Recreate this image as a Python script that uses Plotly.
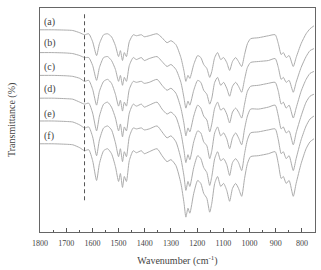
import plotly.graph_objects as go

wavenumber = [1800, 1750, 1700, 1675, 1648, 1630, 1614, 1599, 1584, 1573,
              1557, 1542, 1527, 1512, 1500, 1493, 1485, 1478, 1470, 1459,
              1444, 1432, 1413, 1402, 1383, 1353, 1334, 1315, 1300, 1281,
              1262, 1250, 1243, 1235, 1228, 1213, 1198, 1186, 1175, 1163,
              1152, 1144, 1133, 1122, 1110, 1099, 1087, 1076, 1065, 1053,
              1042, 1030, 1019, 1008, 996, 966, 928, 902, 890, 879,
              871, 860, 849, 833, 822, 803, 784, 769, 754]

trans_a = [204, 204, 203.7, 203.3, 201, 199, 200, 192, 178, 190,
           199, 200, 197, 188, 177, 183, 173, 181, 177, 192,
           199, 198, 199, 197, 198, 200, 196, 191, 193, 189,
           176, 162, 152, 158, 155, 169, 178, 176, 169, 165,
           156, 162, 176, 181, 174, 176, 171, 163, 172, 176,
           172, 167, 179, 190, 195, 196, 198, 199, 190, 179,
           181, 176, 178, 167, 176, 190, 200, 205, 208]
trans_b = [181, 181, 180.6, 180, 178, 176, 176, 168, 153, 166,
           176, 177, 173, 164, 152, 158, 148, 156, 152, 168,
           176, 174, 176, 173, 175, 177, 172, 167, 169, 164,
           151, 135, 125, 132, 128, 143, 153, 151, 143, 139,
           129, 135, 151, 156, 148, 151, 145, 137, 147, 151,
           147, 141, 154, 166, 171, 172, 173, 175, 166, 154,
           156, 151, 153, 141, 151, 166, 177, 183, 185]
trans_c = [158, 158, 157.6, 157, 155, 152, 153, 144, 128, 142,
           152, 154, 150, 139, 127, 133, 122, 131, 127, 144,
           152, 151, 152, 150, 151, 154, 148, 143, 145, 140,
           125, 109, 97, 105, 101, 117, 128, 125, 117, 113,
           101, 109, 125, 131, 123, 125, 119, 110, 121, 125,
           121, 115, 129, 142, 147, 148, 150, 151, 142, 129,
           131, 125, 128, 115, 125, 142, 154, 160, 162]
trans_d = [135, 135, 134.5, 134, 131, 129, 130, 120, 102, 117,
           129, 131, 126, 115, 102, 109, 96, 106, 102, 120,
           129, 127, 129, 126, 128, 131, 124, 119, 121, 116,
           100, 82, 70, 78, 73, 91, 102, 100, 91, 87,
           74, 82, 100, 106, 97, 100, 94, 84, 95, 100,
           95, 88, 104, 117, 124, 124, 126, 128, 117, 104,
           106, 100, 102, 88, 100, 117, 131, 137, 139]
trans_e = [112, 112, 111.5, 111, 108, 105, 106, 96, 77, 93,
           105, 107, 103, 90, 76, 84, 71, 81, 76, 96,
           105, 104, 105, 103, 104, 107, 101, 95, 97, 91,
           74, 56, 42, 51, 46, 65, 77, 74, 65, 60,
           47, 56, 74, 81, 72, 74, 68, 57, 70, 74,
           70, 62, 79, 93, 100, 101, 103, 104, 93, 79,
           81, 74, 77, 62, 74, 93, 107, 114, 117]
trans_f = [89, 89, 88.5, 88, 85, 82, 83, 72, 52, 69,
           82, 84, 79, 66, 51, 59, 45, 56, 51, 72,
           82, 80, 82, 79, 81, 84, 77, 71, 73, 67,
           49, 29, 15, 24, 19, 39, 52, 49, 39, 34,
           20, 29, 49, 56, 46, 49, 42, 31, 44, 49,
           44, 36, 54, 69, 76, 77, 79, 81, 69, 54,
           56, 49, 52, 36, 49, 69, 84, 91, 94]

series_labels = ["(a)", "(b)", "(c)", "(d)", "(e)", "(f)"]
label_y = [212, 191, 166, 144, 119, 97]

marker_x = [1630, 1630]
marker_y = [32, 221]

FONT = "Liberation Serif, Times New Roman, serif"

fig = go.Figure()
for name, ys in zip(series_labels, [trans_a, trans_b, trans_c, trans_d, trans_e, trans_f]):
    fig.add_trace(go.Scatter(x=wavenumber, y=ys, mode="lines", name=name,
                             line=dict(color="#acacac", width=1, shape="spline", smoothing=0.6),
                             showlegend=False, hoverinfo="skip"))

fig.add_trace(go.Scatter(x=marker_x, y=marker_y, mode="lines",
                         line=dict(color="#555555", width=1, dash="4px,3px"),
                         showlegend=False, hoverinfo="skip"))

for lab, yv in zip(series_labels, label_y):
    fig.add_annotation(x=1792, y=yv, text=lab, showarrow=False, xanchor="left",
                       yanchor="middle", font=dict(family=FONT, size=10, color="#444444"))

fig.add_annotation(xref="paper", yref="paper", x=0, y=0.5, xshift=-28,
                   text="Transmittance (%)", textangle=-90, showarrow=False,
                   xanchor="center", yanchor="middle",
                   font=dict(family=FONT, size=10, color="#444444"))

fig.update_layout(
    width=321, height=270,
    margin=dict(l=40, r=5, t=8, b=36),
    paper_bgcolor="white", plot_bgcolor="white",
    font=dict(family=FONT, color="#444444"),
)
fig.update_xaxes(range=[1800, 750], tickmode="array",
                 tickvals=[1800, 1700, 1600, 1500, 1400, 1300, 1200, 1100, 1000, 900, 800],
                 ticktext=["1800", "1700", "1600", "1500", "1400", "1300", "1200", "1100", "1000", "900", "800"],
                 ticks="inside", ticklen=4, tickcolor="#555555",
                 minor=dict(tickvals=[1750, 1650, 1550, 1450, 1350, 1250, 1150, 1050, 950, 850],
                            ticks="inside", ticklen=2, tickcolor="#555555"),
                 showline=True, linecolor="#666666", linewidth=1, mirror=True,
                 showgrid=False, zeroline=False, ticklabelstandoff=3,
                 tickfont=dict(family=FONT, size=8, color="#444444"),
                 title=dict(text="Wavenumber (cm<sup>-1</sup>)", font=dict(family=FONT, size=10, color="#444444"),
                            standoff=10))
fig.update_yaxes(range=[0, 226], showticklabels=False, ticks="",
                 showline=True, linecolor="#666666", linewidth=1, mirror=True,
                 showgrid=False, zeroline=False)

fig.write_html("out.html")
